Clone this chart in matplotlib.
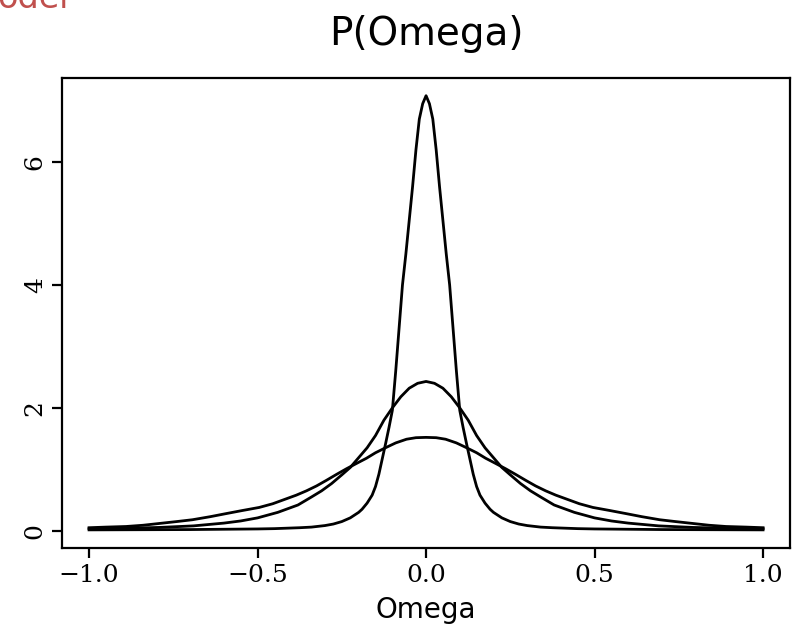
import matplotlib
matplotlib.use('Agg')
import matplotlib.pyplot as plt

# values (three symmetric curves)
omega_narrow = [-1.0, -0.7, -0.5, -0.45, -0.375, -0.34, -0.3, -0.275, -0.25, -0.225,
                -0.2, -0.19, -0.175, -0.16, -0.15, -0.14, -0.13, -0.12, -0.11, -0.1,
                -0.09, -0.08, -0.07, -0.06, -0.05, -0.04, -0.03, -0.02, -0.01, 0.0,
                0.01, 0.02, 0.03, 0.04, 0.05, 0.06, 0.07, 0.08, 0.09, 0.1,
                0.11, 0.12, 0.13, 0.14, 0.15, 0.16, 0.175, 0.19, 0.2, 0.225,
                0.25, 0.275, 0.3, 0.34, 0.375, 0.45, 0.5, 0.7, 1.0]
p_narrow = [0.015, 0.02, 0.03, 0.035, 0.05, 0.06, 0.085, 0.11, 0.15, 0.21,
            0.3, 0.35, 0.45, 0.58, 0.72, 0.92, 1.17, 1.42, 1.68, 1.96,
            2.6, 3.3, 4.0, 4.5, 5.05, 5.6, 6.2, 6.7, 6.95, 7.08,
            6.95, 6.7, 6.2, 5.6, 5.05, 4.5, 4.0, 3.3, 2.6, 1.96,
            1.68, 1.42, 1.17, 0.92, 0.72, 0.58, 0.45, 0.35, 0.3, 0.21,
            0.15, 0.11, 0.085, 0.06, 0.05, 0.035, 0.03, 0.02, 0.015]

omega_mid = [-1.0, -0.9, -0.79, -0.69, -0.6, -0.55, -0.5, -0.44, -0.38, -0.34,
             -0.31, -0.28, -0.25, -0.225, -0.2, -0.175, -0.15, -0.125, -0.1, -0.075,
             -0.05, -0.025, 0.0, 0.025, 0.05, 0.075, 0.1, 0.125, 0.15, 0.175,
             0.2, 0.225, 0.25, 0.28, 0.31, 0.34, 0.38, 0.44, 0.5, 0.55,
             0.6, 0.69, 0.79, 0.9, 1.0]
p_mid = [0.035, 0.04, 0.055, 0.08, 0.125, 0.16, 0.21, 0.3, 0.42, 0.55,
         0.65, 0.77, 0.91, 1.03, 1.19, 1.35, 1.55, 1.8, 2.0, 2.18,
         2.32, 2.4, 2.43, 2.4, 2.32, 2.18, 2.0, 1.8, 1.55, 1.35,
         1.19, 1.03, 0.91, 0.77, 0.65, 0.55, 0.42, 0.3, 0.21, 0.16,
         0.125, 0.08, 0.055, 0.04, 0.035]

omega_wide = [-1.0, -0.95, -0.89, -0.84, -0.79, -0.74, -0.693, -0.64, -0.593, -0.545,
              -0.495, -0.455, -0.415, -0.385, -0.355, -0.325, -0.296, -0.265, -0.236, -0.205,
              -0.177, -0.15, -0.117, -0.09, -0.058, -0.03, 0.0, 0.03, 0.058, 0.09,
              0.117, 0.15, 0.177, 0.205, 0.236, 0.265, 0.296, 0.325, 0.355, 0.385,
              0.415, 0.455, 0.495, 0.545, 0.593, 0.64, 0.693, 0.74, 0.79, 0.84,
              0.89, 0.95, 1.0]
p_wide = [0.05, 0.06, 0.07, 0.09, 0.12, 0.15, 0.18, 0.23, 0.28, 0.33,
          0.38, 0.44, 0.52, 0.58, 0.65, 0.73, 0.82, 0.92, 1.01, 1.1,
          1.18, 1.27, 1.36, 1.43, 1.49, 1.515, 1.52, 1.515, 1.49, 1.43,
          1.36, 1.27, 1.18, 1.1, 1.01, 0.92, 0.82, 0.73, 0.65, 0.58,
          0.52, 0.44, 0.38, 0.33, 0.28, 0.23, 0.18, 0.15, 0.12, 0.09,
          0.07, 0.06, 0.05]

xticks = [-1.0, -0.5, 0.0, 0.5, 1.0]
xticklabels = ['\u22121.0', '\u22120.5', '0.0', '0.5', '1.0']
yticks = [0, 2, 4, 6]

fig = plt.figure(figsize=(7.96, 6.28), dpi=100)
ax = fig.add_axes([0.078, 0.127, 0.9145, 0.749])

for xs, ys in [(omega_narrow, p_narrow), (omega_mid, p_mid), (omega_wide, p_wide)]:
    ax.plot(xs, ys, color='black', linewidth=2.0, solid_joinstyle='round')

ax.set_xlim(-1.08, 1.08)
ax.set_ylim(-0.284, 7.37)
ax.set_xticks(xticks)
ax.set_xticklabels(xticklabels, family='DejaVu Serif', fontsize=18)
ax.set_yticks(yticks)
ax.set_yticklabels([str(t) for t in yticks], family='DejaVu Serif',
                   fontsize=18, rotation=90, va='center')
ax.tick_params(direction='out', length=7, width=1.6, pad=4)
for s in ax.spines.values():
    s.set_linewidth(1.6)

ax.set_xlabel('Omega', fontsize=20, labelpad=7)
ax.set_title('P(Omega)', fontsize=28, pad=24)

# clipped red text at the very top-left of the reference
fig.text(-0.003, 1 - 8 / 628, 'oder', color='#c0504d', fontsize=24,
         va='baseline', ha='left')

fig.savefig('out.png', dpi=100)
